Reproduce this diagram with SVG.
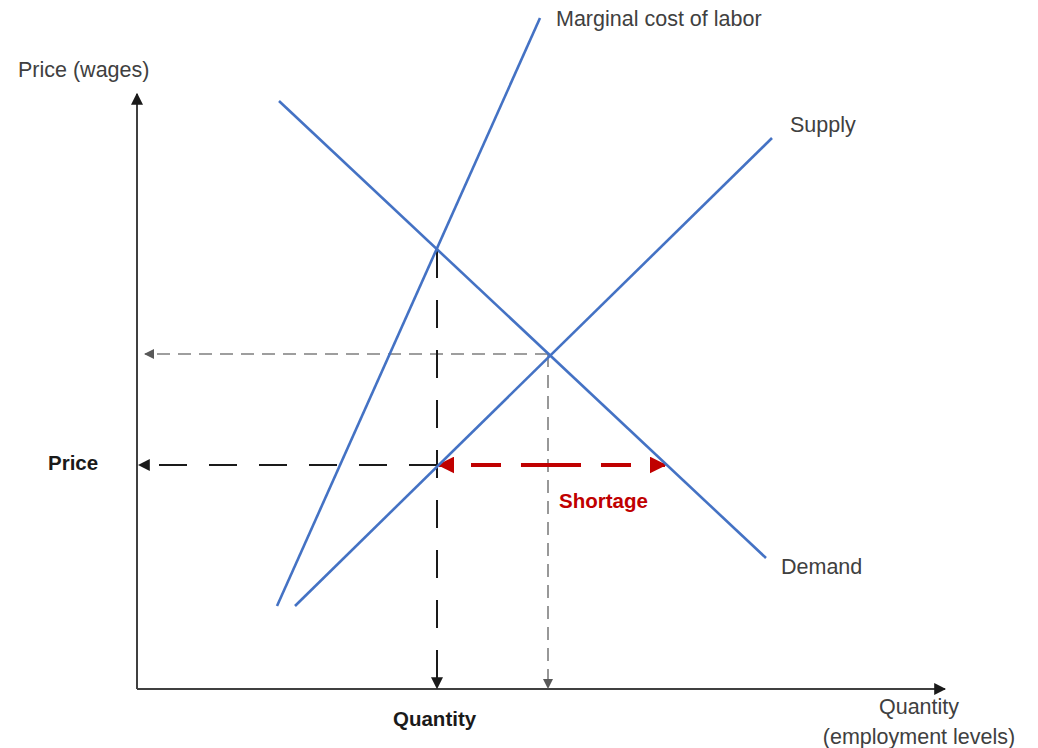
<svg xmlns="http://www.w3.org/2000/svg" width="1038" height="748" viewBox="0 0 1038 748">
<style>
text{font-family:"Liberation Sans",Arial,sans-serif;font-size:21.5px;fill:#404040}
.b{font-weight:bold;fill:#1a1a1a;font-size:20.5px}
.curve{stroke:#4472C4;stroke-width:2.6;fill:none}
.ax{stroke:#404040;stroke-width:2;fill:none}
.blk{stroke:#1a1a1a;stroke-width:2;fill:none;stroke-dasharray:28 22}
.gry{stroke:#7f7f7f;stroke-width:1.6;fill:none;stroke-dasharray:13 8}
.red{stroke:#C00000;stroke-width:4;fill:none;stroke-dasharray:30 20}
</style>
<defs>
<marker id="ax" viewBox="0 0 10 10" refX="9" refY="5" markerWidth="12" markerHeight="12" orient="auto" markerUnits="userSpaceOnUse"><path d="M0,0L10,5L0,10z" fill="#1a1a1a"/></marker>
<marker id="ag" viewBox="0 0 10 10" refX="9" refY="5" markerWidth="10" markerHeight="10" orient="auto" markerUnits="userSpaceOnUse"><path d="M0,0L10,5L0,10z" fill="#595959"/></marker>
<marker id="ab" viewBox="0 0 10 10" refX="9" refY="5" markerWidth="12" markerHeight="12" orient="auto" markerUnits="userSpaceOnUse"><path d="M0,0L10,5L0,10z" fill="#1a1a1a"/></marker>
<marker id="ar" viewBox="0 0 10 10" refX="9" refY="5" markerWidth="17" markerHeight="17" orient="auto" markerUnits="userSpaceOnUse"><path d="M0,0L10,5L0,10z" fill="#C00000"/></marker>
</defs>
<g id="connectors">
<line class="ax" x1="137" y1="689" x2="137" y2="94" marker-end="url(#ax)"/>
<line class="ax" x1="137" y1="689" x2="945" y2="689" marker-end="url(#ax)"/>
<line class="gry" x1="548" y1="354" x2="145" y2="354" marker-end="url(#ag)"/>
<line class="gry" x1="548" y1="354" x2="548" y2="688" marker-end="url(#ag)"/>
<line class="blk" x1="437" y1="250" x2="437" y2="688" marker-end="url(#ab)"/>
<line class="blk" x1="437" y1="465" x2="139" y2="465" marker-end="url(#ab)"/>
<line class="red" x1="551" y1="465" x2="439" y2="465" marker-end="url(#ar)"/>
<line class="red" x1="551" y1="465" x2="665" y2="465" marker-end="url(#ar)"/>
</g>
<g id="mcl"><line class="curve" x1="277" y1="606" x2="540" y2="18"/><text x="556" y="26">Marginal cost of labor</text></g>
<g id="supply"><line class="curve" x1="295" y1="606" x2="772" y2="138"/><text x="790" y="132">Supply</text></g>
<g id="demand"><line class="curve" x1="279" y1="101" x2="766" y2="558"/><text x="781" y="574">Demand</text></g>
<g id="labels">
<text x="18" y="77">Price (wages)</text>
<text class="b" x="48" y="470">Price</text>
<text class="b" x="393" y="726">Quantity</text>
<text x="919" y="714" text-anchor="middle">Quantity</text>
<text x="919" y="744" text-anchor="middle">(employment levels)</text>
<text class="b" x="559" y="508" style="fill:#C00000">Shortage</text>
</g>
</svg>
